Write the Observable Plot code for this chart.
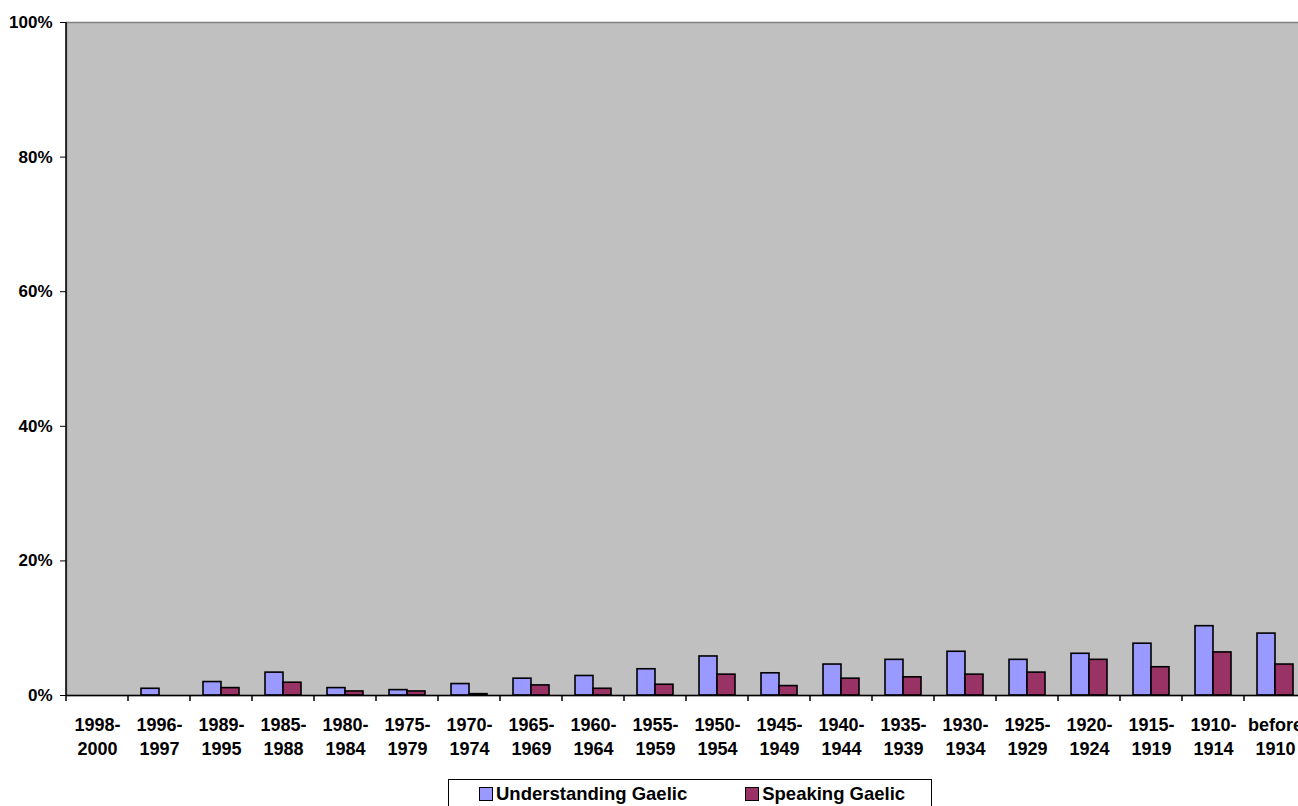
<!DOCTYPE html>
<html><head><meta charset="utf-8">
<script src="https://cdn.jsdelivr.net/npm/d3@7"></script>
<script src="https://cdn.jsdelivr.net/npm/@observablehq/plot@0.6"></script>
<style>
html,body{margin:0;padding:0;background:#fff;overflow:hidden;}
body{font-family:"Liberation Sans",Arial,sans-serif;}
#chart svg{display:block;max-width:none !important;}
#legend{margin:14px 0 0 448px;width:484px;height:40px;box-sizing:border-box;border:1px solid #000;
  display:flex;align-items:flex-start;padding:3px 0 0 30px;font-weight:bold;font-size:18.5px;color:#000;white-space:nowrap;}
#legend .item{display:flex;align-items:center;margin-right:58px;flex:none;}
#legend .sw{width:12px;height:12px;border:1px solid #000;margin-right:3px;flex:none;}
</style></head>
<body>
<div id="chart"></div>
<div id="legend"></div>
<script>
const periods = ["1998-2000","1996-1997","1989-1995","1985-1988","1980-1984","1975-1979","1970-1974","1965-1969","1960-1964","1955-1959","1950-1954","1945-1949","1940-1944","1935-1939","1930-1934","1925-1929","1920-1924","1915-1919","1910-1914","before 1910"];
const periodLabels = ["1998-\n2000","1996-\n1997","1989-\n1995","1985-\n1988","1980-\n1984","1975-\n1979","1970-\n1974","1965-\n1969","1960-\n1964","1955-\n1959","1950-\n1954","1945-\n1949","1940-\n1944","1935-\n1939","1930-\n1934","1925-\n1929","1920-\n1924","1915-\n1919","1910-\n1914","before\n1910"];
const understanding = [0, 1.0, 2.0, 3.4, 1.1, 0.8, 1.7, 2.5, 2.9, 3.9, 5.8, 3.3, 4.6, 5.3, 6.5, 5.3, 6.2, 7.7, 10.3, 9.2];
const speaking = [0, 0, 1.1, 1.9, 0.6, 0.6, 0.2, 1.5, 1.0, 1.6, 3.1, 1.4, 2.5, 2.7, 3.1, 3.4, 5.3, 4.2, 6.4, 4.6];
const yTicks = [0, 20, 40, 60, 80, 100];
const seriesNames = ["Understanding Gaelic", "Speaking Gaelic"];
const seriesColors = ["#9999FF", "#993366"];

const labelOf = new Map(periods.map((p, i) => [p, periodLabels[i]]));
const rowsU = periods.map((p, i) => ({period: p, value: understanding[i]})).filter(d => d.value > 0);
const rowsS = periods.map((p, i) => ({period: p, value: speaking[i]})).filter(d => d.value > 0);

const chart = Plot.plot({
  width: 1306, height: 765,
  marginLeft: 66, marginRight: 0, marginTop: 22, marginBottom: 70,
  style: {fontFamily: "'Liberation Sans', Arial, sans-serif", fontWeight: "bold", color: "#000", background: "#fff", overflow: "visible"},
  x: {domain: periods, padding: 0, label: null},
  y: {domain: [0, 100], label: null},
  marks: [
    Plot.frame({fill: "#C0C0C0", stroke: "#808080", strokeWidth: 1.5}),
    Plot.barY(rowsU, {x: "period", y: "value", fill: seriesColors[0], stroke: "#000", strokeWidth: 1.6, insetLeft: 13, insetRight: 31}),
    Plot.barY(rowsS, {x: "period", y: "value", fill: seriesColors[1], stroke: "#000", strokeWidth: 1.6, insetLeft: 31, insetRight: 13}),
    Plot.ruleY([0], {stroke: "#000", strokeWidth: 1.5}),
    Plot.axisY({ticks: yTicks, tickFormat: d => d + "%", tickSize: 6, tickPadding: 8, label: null, fontSize: 17, stroke: "#000"}),
    Plot.axisX({tickSize: 0, tickPadding: 19, tickFormat: d => labelOf.get(d), lineHeight: 1.33, fontSize: 18, label: null})
  ]
});

// Category-boundary ticks and left axis line, placed with the plot's own scales
const xs = chart.scale("x");
const ys = chart.scale("y");
const xBand = d3.scaleBand().domain(xs.domain).range(xs.range).padding(0);
const yLin = d3.scaleLinear().domain(ys.domain).range(ys.range);
const g = d3.select(chart).append("g").attr("stroke", "#000").attr("stroke-width", 1.5);
const bounds = periods.map(p => xBand(p)).concat([xBand.range()[1]]);
g.selectAll("line.tk").data(bounds).join("line")
  .attr("x1", d => d).attr("x2", d => d)
  .attr("y1", yLin(0)).attr("y2", yLin(0) + 6);
g.append("line")
  .attr("x1", xBand.range()[0]).attr("x2", xBand.range()[0])
  .attr("y1", yLin(100)).attr("y2", yLin(0));

document.getElementById("chart").appendChild(chart);

const legend = document.getElementById("legend");
seriesNames.forEach((name, i) => {
  const item = document.createElement("div");
  item.className = "item";
  const sw = document.createElement("span");
  sw.className = "sw";
  sw.style.background = seriesColors[i];
  const t = document.createElement("span");
  t.textContent = name;
  item.appendChild(sw); item.appendChild(t);
  legend.appendChild(item);
});
</script>
</body></html>
